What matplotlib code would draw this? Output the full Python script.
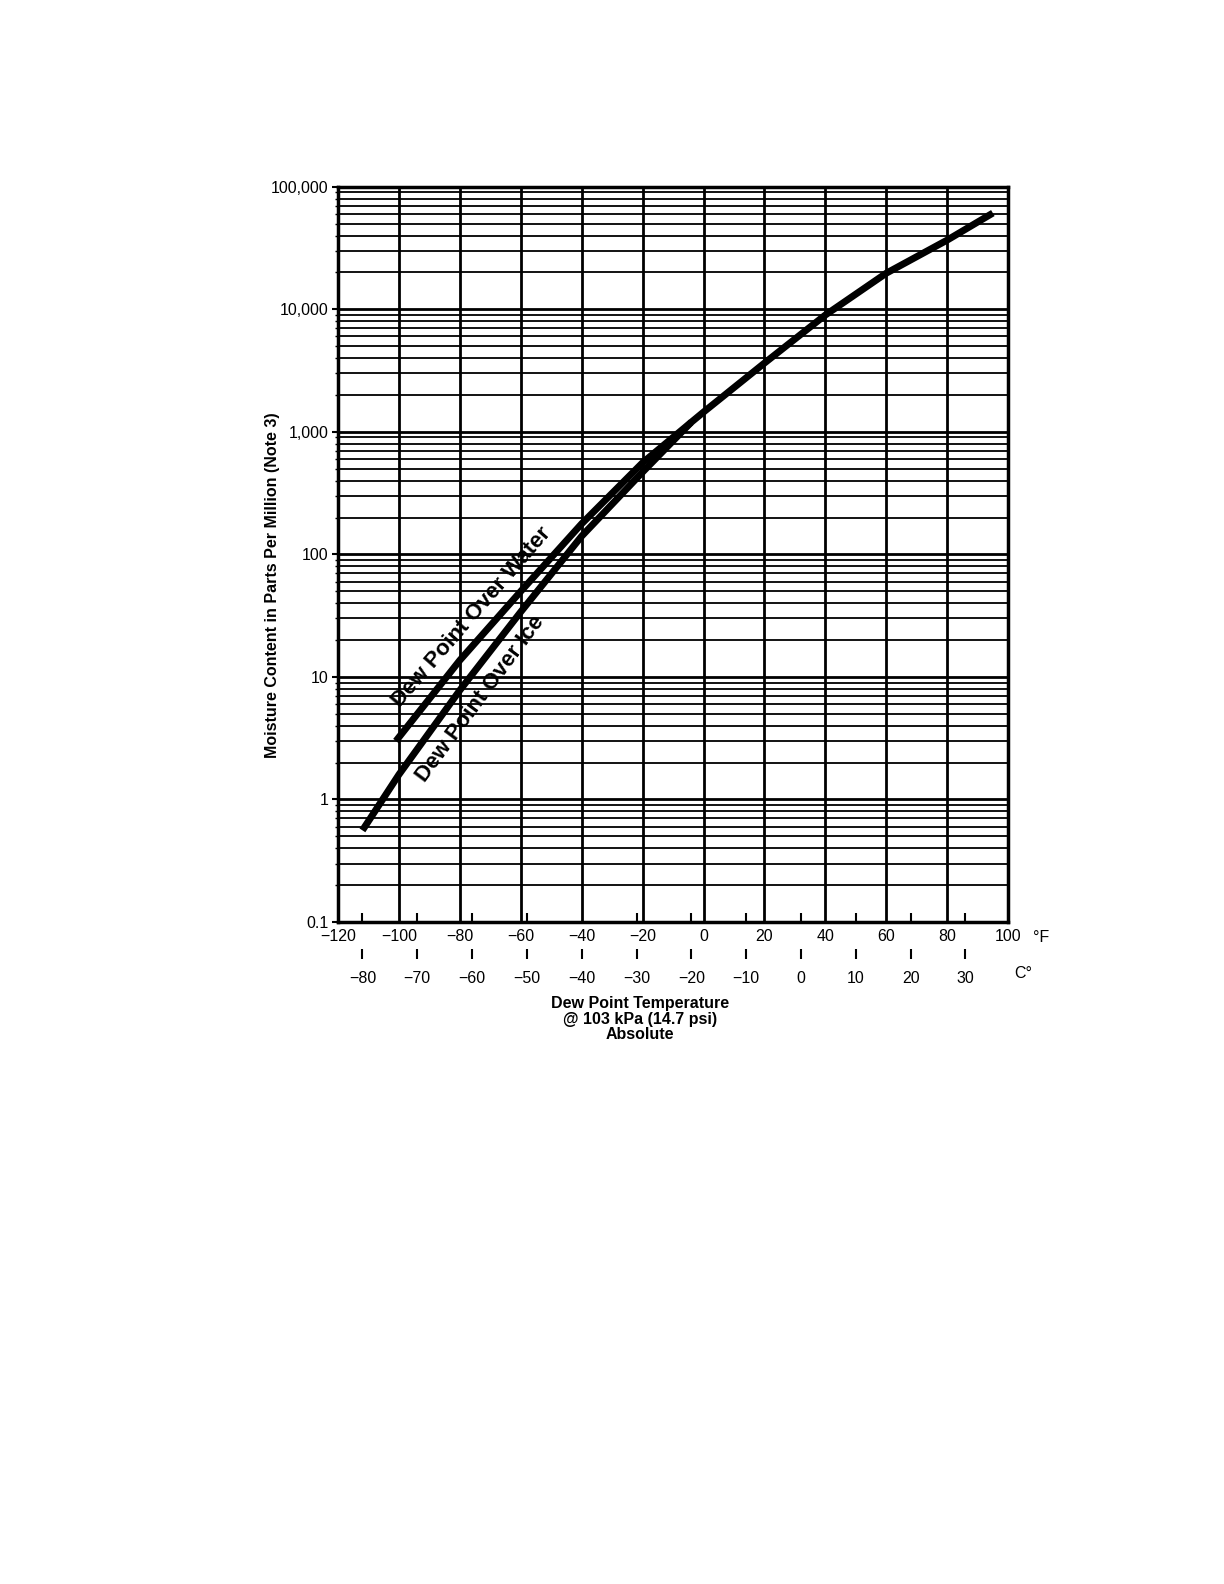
import matplotlib.pyplot as plt
from matplotlib.ticker import FixedLocator, NullFormatter, LogLocator

# readings (deg F, ppm)
ice_f = [-112, -100, -80, -60, -40, -20, -4]
ice_ppm = [0.56, 1.6, 7.8, 34, 141, 470, 1200]
water_f = [-101, -80, -60, -40, -20, -4]
water_ppm = [3.0, 13.7, 50, 178, 560, 1200]
common_f = [-4, 0, 20, 40, 60, 80, 95]
common_ppm = [1200, 1450, 3640, 8980, 19700, 36700, 61000]

f_ticks = [-120, -100, -80, -60, -40, -20, 0, 20, 40, 60, 80, 100]
c_ticks = [-80, -70, -60, -50, -40, -30, -20, -10, 0, 10, 20, 30]
y_ticks = [0.1, 1, 10, 100, 1000, 10000, 100000]
y_labels = ["0.1", "1", "10", "100", "1,000", "10,000", "100,000"]


def f2c(f):
    return (f - 32) / 1.8


def c2f(c):
    return c * 1.8 + 32


def minus(v):
    return str(v).replace("-", "\u2212")


plt.rcParams['font.family'] = ['Liberation Sans', 'DejaVu Sans']

fig = plt.figure(figsize=(12.24, 15.84), dpi=100)
ax = fig.add_axes([0.2762, 0.4179, 0.5474, 0.4642])

ax.set_xlim(-120, 100)
ax.set_yscale('log')
ax.set_ylim(0.1, 100000)

# curves
ax.plot(ice_f + common_f[1:], ice_ppm + common_ppm[1:], color='black', lw=5,
        solid_capstyle='butt', solid_joinstyle='round', zorder=3)
ax.plot(water_f, water_ppm, color='black', lw=5,
        solid_capstyle='butt', solid_joinstyle='round', zorder=3)

ax.text(-76, 31, "Dew Point Over Water", rotation=49, fontsize=16,
        fontweight='bold', ha='center', va='center', rotation_mode='anchor')
ax.text(-73.4, 6.6, "Dew Point Over Ice", rotation=53.5, fontsize=16,
        fontweight='bold', ha='center', va='center', rotation_mode='anchor')

# grid
ax.set_xticks(f_ticks)
ax.set_xticklabels([minus(v) for v in f_ticks], fontsize=11.5)
ax.xaxis.set_minor_locator(FixedLocator([c2f(c) for c in c_ticks]))
ax.xaxis.set_minor_formatter(NullFormatter())
ax.set_yticks(y_ticks)
ax.set_yticklabels(y_labels, fontsize=11.5)
ax.yaxis.set_minor_locator(LogLocator(base=10, subs=range(2, 10)))
ax.yaxis.set_minor_formatter(NullFormatter())

ax.grid(True, which='major', axis='both', color='black', lw=2)
ax.grid(True, which='minor', axis='y', color='black', lw=1.3)

ax.tick_params(axis='x', which='major', length=0, pad=5)
ax.tick_params(axis='x', which='minor', direction='in', length=6.5, width=1.5)
ax.tick_params(axis='y', which='major', direction='out', length=4, width=1.5, pad=3)
ax.tick_params(axis='y', which='minor', direction='out', length=2, width=1)
for s in ax.spines.values():
    s.set_linewidth(2.5)

# celsius scale
sec = ax.secondary_xaxis(-0.036, functions=(f2c, c2f))
sec.set_xticks(c_ticks)
sec.set_xticklabels([minus(v) for v in c_ticks], fontsize=11.5)
sec.spines['bottom'].set_visible(False)
sec.tick_params(length=7, width=1.5, pad=9)

ax.text(1.05, -0.021, "\u00b0F", transform=ax.transAxes, fontsize=11.5,
        ha='center', va='center')
ax.text(1.022, -0.07, "C\u00b0", transform=ax.transAxes, fontsize=11.5,
        ha='center', va='center')

ax.text(0.45, -0.100, "Dew Point Temperature\n@ 103 kPa (14.7 psi)\nAbsolute",
        transform=ax.transAxes, fontsize=11.5, fontweight='bold',
        ha='center', va='top', linespacing=1.08)
ax.text(-0.098, 0.458, "Moisture Content in Parts Per Million (Note 3)",
        transform=ax.transAxes, fontsize=11.5, fontweight='bold',
        rotation=90, ha='center', va='center')

fig.savefig("out.png", dpi=100)
